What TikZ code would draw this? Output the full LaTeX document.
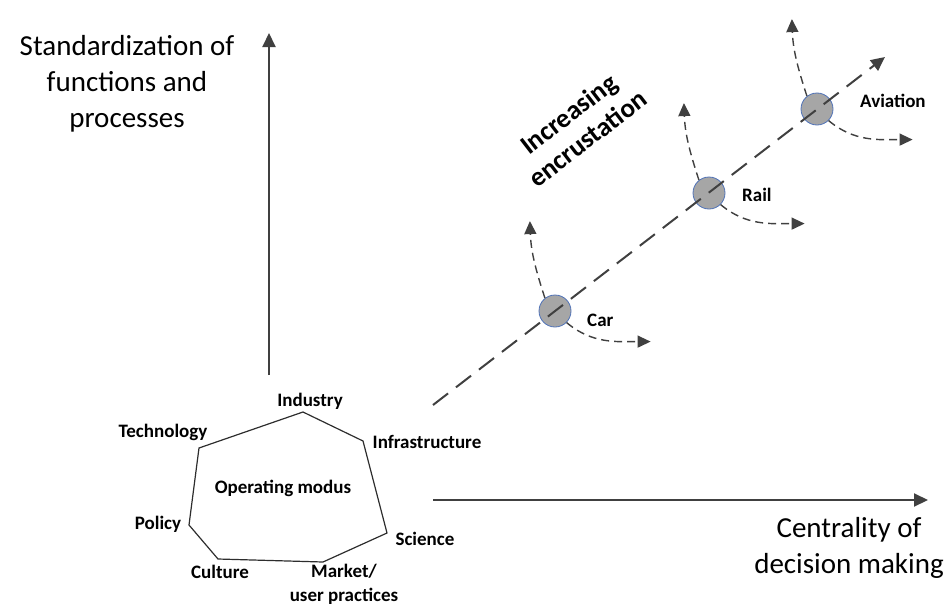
\documentclass[tikz,border=0pt]{standalone}
\usepackage{fontspec}
\setmainfont{Carlito}
\usetikzlibrary{arrows.meta,positioning}
\definecolor{ink}{HTML}{404040}
\definecolor{modefill}{HTML}{A6A6A6}
\definecolor{modeedge}{HTML}{4F72B8}
\tikzset{axis/.style={draw=ink,line width=2pt,-{Triangle[length=14pt,width=13pt]}},
  trend/.style={draw=ink,line width=2pt,dash pattern=on 19pt off 10pt,-{Triangle[length=14pt,width=13pt]}},
  branch/.style={draw=ink,line width=1.4pt,dash pattern=on 8pt off 5pt,-{Triangle[length=13pt,width=12pt]}},
  mode/.style={circle,draw=modeedge,fill=modefill,line width=.8pt,minimum size=32pt,inner sep=0pt},
  modelabel/.style={font=\fontsize{19}{22}\selectfont\bfseries,anchor=west,inner sep=0pt},
  corner/.style={font=\fontsize{19}{22}\selectfont\bfseries,inner sep=1pt},
  axislabel/.style={font=\fontsize{29}{36}\selectfont,align=center}}
\begin{document}
\begin{tikzpicture}[x=1pt,y=1pt]
\useasboundingbox (0,0) rectangle (944,-605);
% axes
\coordinate (origin) at (269,-375);
\coordinate (ytip) at (269,-33);
\draw[axis] (origin) -- (ytip);
\coordinate (xstart) at (433,-500);
\coordinate (xtip) at (928,-500);
\draw[axis] (xstart) -- (xtip);
\node[axislabel] (ylab) at (127,-84) {Standardization of\\functions and\\processes};
\node[axislabel] (xlab) at (849,-548) {Centrality of\\decision making};
% operating modus
\coordinate (tech) at (199,-448);
\coordinate (ind) at (303,-412);
\coordinate (infra) at (363,-441);
\coordinate (sci) at (387,-533);
\coordinate (market) at (323,-562);
\coordinate (cult) at (218,-559);
\coordinate (pol) at (189,-525);
\draw[line width=1.2pt,ink!70!black] (tech) -- (ind) -- (infra) -- (sci) -- (market) -- (cult) -- (pol) -- cycle;
\node[corner] (modus) at (283,-488) {Operating modus};
\node[corner] (indlab) at (310,-401) {Industry};
\node[corner] (techlab) at (163,-432) {Technology};
\node[corner] (infralab) at (427,-442) {Infrastructure};
\node[corner] (scilab) at (425,-539) {Science};
\node[corner] (pollab) at (158,-524) {Policy};
\node[corner] (cultlab) at (220,-572) {Culture};
\node[corner,align=center,font=\fontsize{19}{24}\selectfont\bfseries] (marketlab) at (344,-584) {Market/\\user practices};
% modes along the trend
\node[mode] (car) at (555,-311) {};
\node[mode] (rail) at (709,-193) {};
\node[mode] (aviation) at (817,-109) {};
\coordinate (trendstart) at (433,-405);
\coordinate (trendtip) at (885,-57);
\draw[trend] (trendstart) -- (trendtip);
\node[modelabel] (carlab) at (587,-320) {Car};
\node[modelabel] (raillab) at (742,-195) {Rail};
\node[modelabel] (aviationlab) at (860,-101) {Aviation};
\node[font=\fontsize{27}{31}\selectfont\bfseries,align=center,rotate=37.6] (encrust) at (578,-126) {Increasing\\encrustation};
% branches
\foreach \m in {car,rail,aviation}{
  \draw[branch] (\m.128) to[out=108,in=-88] ++(-15,77);
  \draw[branch] (\m.-45) to[out=-40,in=180] ++(84,-19);
}
\end{tikzpicture}
\end{document}
